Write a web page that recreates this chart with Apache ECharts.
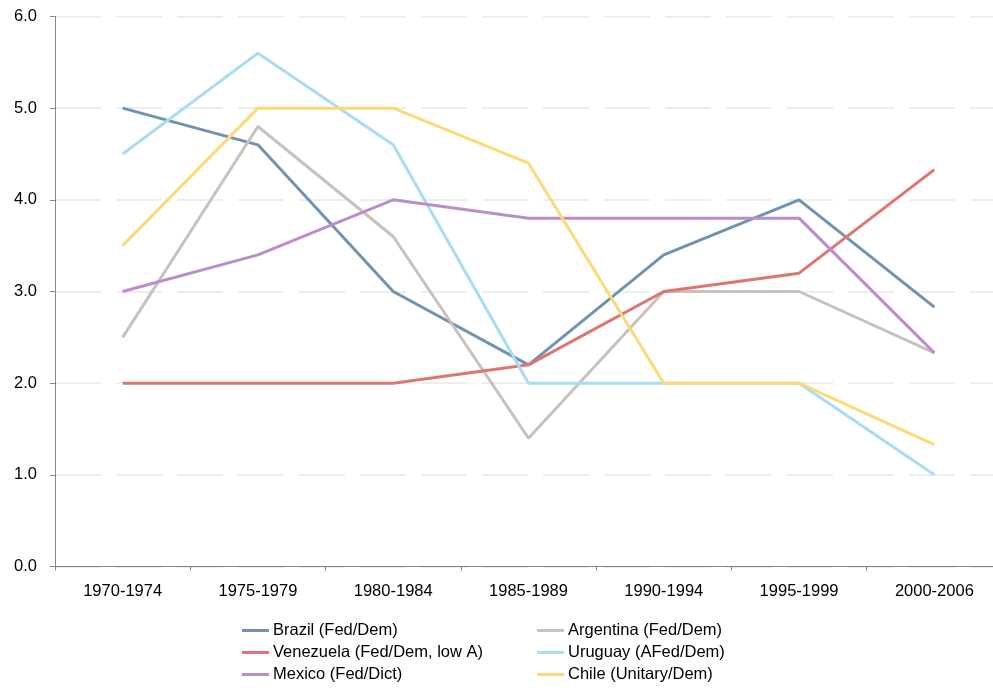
<!DOCTYPE html>
<html>
<head>
<meta charset="utf-8">
<script src="https://cdn.jsdelivr.net/npm/echarts@6/dist/echarts.min.js"></script>
<style>
  html, body { margin: 0; padding: 0; background: #ffffff; overflow: hidden; }
  #chart { width: 1010px; height: 688px; }
</style>
</head>
<body>
<div id="chart"></div>
<script>
// categories (5-year periods)
const periods = ['1970-1974', '1975-1979', '1980-1984', '1985-1989', '1990-1994', '1995-1999', '2000-2006'];

// series values
const brazil    = [5.0, 4.6, 3.0, 2.2, 3.4, 4.0, 2.83];
const argentina = [2.5, 4.8, 3.6, 1.4, 3.0, 3.0, 2.33];
const venezuela = [2.0, 2.0, 2.0, 2.2, 3.0, 3.2, 4.33];
const uruguay   = [4.5, 5.6, 4.6, 2.0, 2.0, 2.0, 1.0];
const mexico    = [3.0, 3.4, 4.0, 3.8, 3.8, 3.8, 2.33];
const chile     = [3.5, 5.0, 5.0, 4.4, 2.0, 2.0, 1.33];

const names = [
  'Brazil (Fed/Dem)',
  'Argentina (Fed/Dem)',
  'Venezuela (Fed/Dem, low A)',
  'Uruguay (AFed/Dem)',
  'Mexico (Fed/Dict)',
  'Chile (Unitary/Dem)',
];
const values = [brazil, argentina, venezuela, uruguay, mexico, chile];
const colors = ['#7093b1', '#c9c1bb', '#e07470', '#a6ddf2', '#bb8ecb', '#ffd877'];

const FONT = '"Liberation Sans", Arial, sans-serif';
const AXIS_GRAY = '#868686';

const legendBase = {
  orient: 'vertical',
  top: 622,
  icon: 'rect',
  itemWidth: 27,
  itemHeight: 3,
  itemGap: 5,
  padding: 0,
  textStyle: { fontFamily: FONT, fontSize: 16.5, color: '#000', lineHeight: 17, padding: [0, 0, 0, -1] },
};

const chart = echarts.init(document.getElementById('chart'));
chart.setOption({
  animation: false,
  grid: { left: 55, top: 16.5, height: 550, width: 947 },
  legend: [
    { ...legendBase, left: 242, data: [names[0], names[2], names[4]] },
    { ...legendBase, left: 537, data: [names[1], names[3], names[5]] },
  ],
  xAxis: {
    type: 'category',
    data: periods,
    boundaryGap: true,
    axisLine: { lineStyle: { color: AXIS_GRAY, width: 1 } },
    axisTick: { show: true, length: 4, lineStyle: { color: AXIS_GRAY } },
    axisLabel: { fontFamily: FONT, fontSize: 16.5, color: '#000', margin: 16 },
    splitLine: { show: false },
  },
  yAxis: {
    type: 'value',
    min: 0,
    max: 6,
    interval: 1,
    axisLine: { show: true, lineStyle: { color: AXIS_GRAY, width: 1 } },
    axisTick: { show: true, length: 5, lineStyle: { color: AXIS_GRAY } },
    axisLabel: {
      fontFamily: FONT, fontSize: 16.5, color: '#000', margin: 18,
      padding: [2, 0, 0, 0],
      formatter: (v) => v.toFixed(1),
    },
    splitLine: { show: true, lineStyle: { color: '#e8e8e8', width: 1.5, type: [46, 15] } },
  },
  series: values.map((v, i) => ({
    name: names[i],
    type: 'line',
    data: v,
    symbol: 'none',
    color: colors[i],
    lineStyle: { color: colors[i], width: 3 },
  })),
});
</script>
</body>
</html>
